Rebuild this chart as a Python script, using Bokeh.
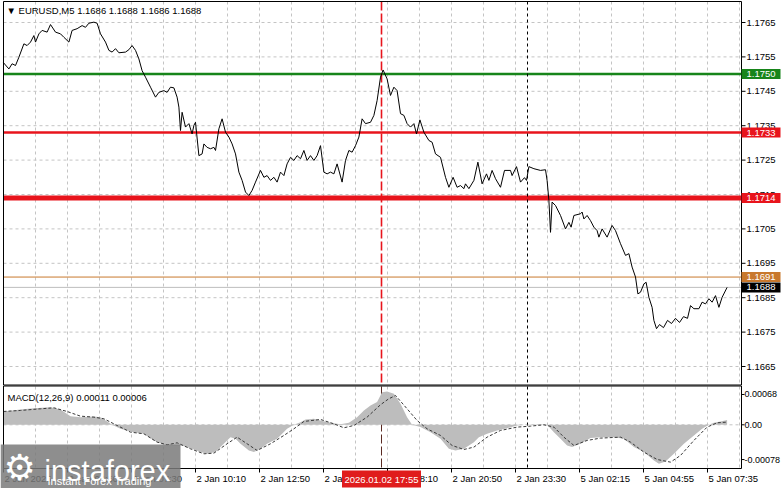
from bokeh.plotting import figure
from bokeh.models import Range1d
from bokeh.core.properties import value
from bokeh.embed import file_html
from bokeh.resources import INLINE

# ---------------- data (bar index = 5-minute bars from the left edge) ----------------
price_idx = [0, 2.7, 4.3, 6, 7.7, 10.2, 11.8, 13.5, 15.2, 16,
             17.7, 19.3, 21.8, 23.5, 26, 28.5, 30.2, 32.7, 34.3, 36.8,
             39.3, 41, 42.7, 45.2, 46.8, 48.5, 51, 52.7, 54.3, 56,
             57.7, 61, 62.7, 64.3, 66, 67.7, 69.3, 71, 73.5, 76,
             77.7, 80.2, 81.8, 83.5, 85.2, 86.8, 87.7, 88.5, 89.3, 91,
             92.7, 94.3, 95.2, 96, 97.7, 99.3, 100.2, 101.8, 103.5, 105.2,
             106, 107.7, 109.3, 111, 112.7, 114.3, 116, 117.7, 119.3, 121,
             122.7, 124.3, 126, 128.5, 130.2, 131.8, 133.5, 135.2, 136.8, 138.5,
             140.2, 141.8, 143.5, 145.2, 146.8, 148.5, 150.2, 151.8, 153.5, 155.2,
             156.8, 158.5, 160.2, 161.8, 163.5, 165.2, 166.8, 169.3, 171, 172.7,
             174.3, 176, 177.7, 179.3, 181, 183.5, 185.2, 186.8, 188.5, 189.8,
             191.8, 193.5, 195.2, 196.8, 198.5, 200.2, 201.8, 203.5, 205.2, 206.5,
             208.2, 210.2, 212.7, 214.3, 216, 218.5, 221, 222.7, 224.8, 226.8,
             228.5, 230.2, 231, 232.7, 235.2, 237.2, 239.3, 241.5, 242.7, 244.3,
             246, 248.5, 250.5, 253.5, 254.3, 256.5, 258.5, 260.5, 261.5, 262.7,
             265.2, 268.5, 271, 271.8, 272.7, 273.5, 274.3, 276, 278.5, 281,
             282.7, 283.8, 285.2, 288.5, 289.3, 290.2, 291.8, 293.5, 295.2, 296.8,
             297.7, 299.3, 301.8, 304.3, 306, 308.5, 311, 312.7, 314.3, 316,
             317.2, 318.5, 320.2, 321.3, 322.7, 324.3, 325.2, 326.5, 328, 330,
             332, 334, 336, 338, 340, 342, 343.5, 345.2, 347.7, 349.3,
             351, 352.7, 354.3, 356, 357.7, 359.3, 361.8]
price_close = [1.17533, 1.17515, 1.17530, 1.17525, 1.17549, 1.17588, 1.17583, 1.17593, 1.17612, 1.17593,
               1.17617, 1.17627, 1.17622, 1.17644, 1.17622, 1.17617, 1.17607, 1.17593, 1.17627, 1.17632,
               1.17641, 1.17636, 1.17648, 1.17651, 1.17648, 1.17617, 1.17593, 1.17569, 1.17564, 1.17574,
               1.17562, 1.17564, 1.17571, 1.17583, 1.17569, 1.17544, 1.17510, 1.17491, 1.17462, 1.17433,
               1.17447, 1.17452, 1.17447, 1.17462, 1.17460, 1.17433, 1.17404, 1.17336, 1.17389, 1.17346,
               1.17356, 1.17326, 1.17351, 1.17360, 1.17263, 1.17268, 1.17297, 1.17287, 1.17283, 1.17287,
               1.17278, 1.17341, 1.17370, 1.17331, 1.17317, 1.17297, 1.17268, 1.17215, 1.17191, 1.17157,
               1.17147, 1.17162, 1.17186, 1.17220, 1.17200, 1.17205, 1.17191, 1.17200, 1.17186, 1.17215,
               1.17205, 1.17239, 1.17258, 1.17249, 1.17263, 1.17254, 1.17278, 1.17249, 1.17263, 1.17249,
               1.17263, 1.17292, 1.17215, 1.17210, 1.17215, 1.17210, 1.17239, 1.17186, 1.17249, 1.17278,
               1.17273, 1.17292, 1.17317, 1.17370, 1.17356, 1.17360, 1.17380, 1.17423, 1.17491, 1.17512,
               1.17486, 1.17438, 1.17462, 1.17452, 1.17385, 1.17380, 1.17356, 1.17346, 1.17356, 1.17326,
               1.17367, 1.17331, 1.17307, 1.17302, 1.17268, 1.17258, 1.17200, 1.17171, 1.17200, 1.17171,
               1.17176, 1.17167, 1.17181, 1.17167, 1.17191, 1.17244, 1.17181, 1.17210, 1.17191, 1.17220,
               1.17196, 1.17171, 1.17220, 1.17220, 1.17205, 1.17231, 1.17186, 1.17199, 1.17191, 1.17231,
               1.17225, 1.17220, 1.17222, 1.17191, 1.17133, 1.17040, 1.17128, 1.17118, 1.17089, 1.17050,
               1.17069, 1.17055, 1.17089, 1.17094, 1.17099, 1.17079, 1.17089, 1.17074, 1.17055, 1.17045,
               1.17026, 1.17050, 1.17026, 1.17060, 1.17045, 1.17007, 1.16973, 1.16978, 1.16939, 1.16910,
               1.16861, 1.16866, 1.16890, 1.16895, 1.16851, 1.16822, 1.16784, 1.16760, 1.16772, 1.16763,
               1.16784, 1.16775, 1.16790, 1.16778, 1.16795, 1.16790, 1.16827, 1.16818, 1.16818, 1.16837,
               1.16832, 1.16847, 1.16837, 1.16856, 1.16822, 1.16851, 1.16880]

hist_idx = [0, 8.5, 15.2, 23.5, 28.5, 33.5, 38.5, 45.2, 48.5, 51.8,
            54.3, 58.5, 65.2, 70.2, 75.2, 80.2, 85.2, 89.3, 93.5, 98.5,
            101.8, 106, 108.5, 111.8, 113.5, 116, 118.5, 122.7, 125.2, 128.5,
            131.8, 136.8, 141.8, 145.2, 148.5, 151, 155.2, 158.5, 163.5, 168.5,
            172.7, 176.8, 180.2, 183.5, 186.8, 189.3, 191.8, 195.2, 198.5, 201.8,
            204.3, 208.5, 213.5, 218.5, 222.7, 226, 230.2, 235.2, 237.7, 241.8,
            246.8, 251.8, 256.8, 261.8, 268.5, 271.8, 275.2, 278.5, 281.8, 284.3,
            288.5, 293.5, 298.5, 305.2, 310.2, 315.2, 320.2, 325.2, 327.7, 331,
            335.2, 340.2, 345.2, 349.3, 352.7, 355.2, 358.5, 361.8]
hist_val = [0.000299, 0.000344, 0.000374, 0.000396, 0.000344, 0.000194, 0.000172, 0.000187, 0.000172, 0.000075,
            0.0, -0.00009, -0.000165, -0.000202, -0.000351, -0.000449, -0.000464, -0.000464, -0.000524, -0.000613,
            -0.000651, -0.000613, -0.000501, -0.000351, -0.000277, -0.000314, -0.000426, -0.000576, -0.000613, -0.000539,
            -0.000426, -0.000314, -0.00009, 0.0, 0.00006, 0.00012, 0.000135, 0.000097, 0.000045, 0.00001,
            0.000045, 0.000172, 0.000322, 0.000434, 0.000509, 0.000733, 0.000748, 0.000696, 0.000471, 0.000172,
            0.0, -0.000052, -0.000165, -0.000314, -0.000539, -0.000576, -0.000539, -0.000389, -0.000277, -0.000202,
            -0.000127, -0.000075, -0.000015, 0.000005, 0.00001, 0.0, -0.000165, -0.000314, -0.000464, -0.000501,
            -0.000426, -0.000299, -0.000277, -0.000277, -0.000314, -0.000501, -0.000613, -0.0008, -0.000875, -0.000823,
            -0.000651, -0.000426, -0.000239, -0.00009, 0.0, 0.000045, 0.000075, 0.00011]

signal_idx = [0, 8.5, 18.5, 25.2, 31.8, 38.5, 45.2, 50.2, 56.8, 63.5,
              70.2, 76.8, 81.8, 86.8, 93.5, 100.2, 105.2, 111.8, 116.8, 121.8,
              126.8, 133.5, 140.2, 145.2, 150.2, 158.5, 165.2, 170.2, 175.2, 181.8,
              188.5, 192.5, 196, 201.8, 206.8, 211.8, 218.5, 224.3, 230.2, 235.2,
              241.8, 248.5, 256.8, 263.5, 270.2, 275.2, 280.2, 285.2, 291.8, 298.5,
              308.5, 313.5, 320.2, 326.8, 333.5, 338.5, 345.2, 351.8, 356.8, 361.8]
signal_val = [0.000299, 0.000322, 0.000359, 0.000381, 0.000299, 0.000194, 0.000172, 0.000135, -0.000015, -0.000165,
              -0.000202, -0.000389, -0.000449, -0.000404, -0.000539, -0.000651, -0.000636, -0.000426, -0.000277, -0.000426,
              -0.000576, -0.000426, -0.000239, -0.00009, 0.000075, 0.00012, 0.000022, -0.000067, -0.000015, 0.000172,
              0.00045, 0.00058, 0.000658, 0.000359, 0.000097, -0.00009, -0.000239, -0.000464, -0.000554, -0.000501,
              -0.000277, -0.000127, -0.000052, -0.00003, 0.0, -0.000052, -0.000277, -0.000464, -0.000351, -0.000299,
              -0.000277, -0.000389, -0.000613, -0.000778, -0.000838, -0.000688, -0.000351, -0.000052, 0.000045, 0.00006]

price_ticks = [1.1665, 1.1675, 1.1685, 1.1695, 1.1705, 1.1715, 1.1725, 1.1735, 1.1745, 1.1755, 1.1765]
macd_ticks = [0.00068, 0.0, -0.00078]
macd_tick_text = ["0.00068", "0.00", "-0.00078"]

time_idx = [0, 32, 64, 96, 128, 160, 192, 224, 256, 288, 320, 352]
time_text = ["2 Jan 2026", "2 Jan 04:50", "2 Jan 07:30", "2 Jan 10:10", "2 Jan 12:50", "2 Jan 15:30",
             "2 Jan 18:10", "2 Jan 20:50", "2 Jan 23:30", "5 Jan 02:15", "5 Jan 04:55", "5 Jan 07:35"]

level_values = [1.1750, 1.1733, 1.1714, 1.1691, 1.1688]
level_line_colors = ["#17851a", "#e8141c", "#e8141c", "#c8782d", "#bdbdbd"]
level_tag_colors = ["#17851a", "#e8141c", "#e8141c", "#c8782d", "#000000"]
level_widths = [2.5, 2.5, 5, 1, 1]

cursor_idx = 189
cursor_text = "2026.01.02 17:55"
separator_idx = 262

title_text = "\u25bc EURUSD,M5  1.1686 1.1688 1.1686 1.1688"
macd_title = "MACD(12,26,9) 0.00011 0.00006"

# ---------------- geometry (screen pixels -> data coordinates) ----------------
W, H = 781, 488
BAR_PX = 2.0          # pixels per 5-minute bar
BAR0_PX = 3.0         # pixel of bar 0
PRICE_REF, PRICE_REF_PY, PRICE_PX = 1.1765, 22.0, 34400.0   # price at pixel row, pixels per 1.0
MACD_ZERO_PY, MACD_PX = 424.3, 44559.0

LEFT, RIGHT = 3, 741
P_TOP, P_BOT = 1, 385
M_TOP, M_BOT = 386, 468


def bx(px):
    return (px - BAR0_PX) / BAR_PX


def pp(py):
    return PRICE_REF - (py - PRICE_REF_PY) / PRICE_PX


def mp(py):
    return (MACD_ZERO_PY - py) / MACD_PX


FONT = value("Liberation Sans")
FS = value("9.5px")
FS_AX = value("9px")
GRID_COLOR = "#c4c4c4"

p = figure(width=W, height=H, x_range=Range1d(bx(0), bx(W)), y_range=Range1d(pp(H), pp(0)),
           output_backend="svg", toolbar_location=None, x_axis_location=None, y_axis_location=None,
           min_border=0, min_border_left=0, min_border_right=0, min_border_top=0, min_border_bottom=0,
           background_fill_color="white", border_fill_color="white", outline_line_color=None)
p.extra_y_ranges = {"macd": Range1d(mp(H), mp(0))}
p.grid.visible = False

vgrid = list(range(0, int(bx(RIGHT)) + 1, 16))

# grid - price pane
p.segment(x0=vgrid, x1=vgrid, y0=[pp(P_TOP)] * len(vgrid), y1=[pp(P_BOT)] * len(vgrid),
          line_color=GRID_COLOR, line_dash="3 3", line_width=1)
p.segment(x0=[bx(LEFT)] * len(price_ticks), x1=[bx(RIGHT)] * len(price_ticks), y0=price_ticks, y1=price_ticks,
          line_color=GRID_COLOR, line_dash="3 3", line_width=1)
# grid - MACD pane
p.segment(x0=vgrid, x1=vgrid, y0=[mp(M_TOP)] * len(vgrid), y1=[mp(M_BOT)] * len(vgrid),
          line_color=GRID_COLOR, line_dash="3 3", line_width=1, y_range_name="macd")
p.segment(x0=[bx(LEFT)], x1=[bx(RIGHT)], y0=[0], y1=[0], line_color=GRID_COLOR, line_dash="3 3",
          line_width=1, y_range_name="macd")

# levels
p.segment(x0=[bx(LEFT)] * len(level_values), x1=[bx(RIGHT)] * len(level_values), y0=level_values,
          y1=level_values, line_color=level_line_colors, line_width=level_widths)

# vertical cursor & day separator
p.segment(x0=[cursor_idx], x1=[cursor_idx], y0=[pp(P_TOP)], y1=[pp(P_BOT)], line_color="#e8141c",
          line_dash="9 3", line_width=1.6)
p.segment(x0=[cursor_idx], x1=[cursor_idx], y0=[mp(M_TOP)], y1=[mp(M_BOT)], line_color="#5a2a22",
          line_dash="9 3", line_width=1, y_range_name="macd")
p.segment(x0=[separator_idx], x1=[separator_idx], y0=[pp(P_TOP)], y1=[pp(P_BOT)], line_color="black",
          line_dash="3 3", line_width=1)
p.segment(x0=[separator_idx], x1=[separator_idx], y0=[mp(M_TOP)], y1=[mp(M_BOT)], line_color="black",
          line_dash="3 3", line_width=1, y_range_name="macd")

# price
p.line(price_idx, price_close, line_color="black", line_width=1)

# MACD
p.varea(x=hist_idx, y1=[0] * len(hist_idx), y2=hist_val, fill_color="#bdbdbd", y_range_name="macd")
p.line(signal_idx, signal_val, line_color="#3a3a3a", line_dash="3 2", line_width=1, y_range_name="macd")

# pane borders
p.quad(left=[bx(LEFT)], right=[bx(RIGHT)], top=[pp(P_TOP)], bottom=[pp(P_BOT - 0.5)], fill_color=None,
       line_color="black", line_width=1)
p.quad(left=[bx(LEFT)], right=[bx(RIGHT)], top=[mp(M_TOP - 0.5)], bottom=[mp(M_BOT)], fill_color=None,
       line_color="black", line_width=1, y_range_name="macd")

# right scale ticks and labels
p.segment(x0=[bx(RIGHT)] * len(price_ticks), x1=[bx(RIGHT + 4)] * len(price_ticks), y0=price_ticks,
          y1=price_ticks, line_color="black", line_width=1)
p.text(x=[bx(RIGHT + 5)] * len(price_ticks), y=price_ticks, text=[f"{t:.4f}" for t in price_ticks],
       text_font=FONT, text_font_size=FS, text_color="black", text_align="left", text_baseline="middle")
p.segment(x0=[bx(RIGHT)] * len(macd_ticks), x1=[bx(RIGHT + 3)] * len(macd_ticks), y0=macd_ticks,
          y1=macd_ticks, line_color="black", line_width=1, y_range_name="macd")
p.text(x=[bx(RIGHT + 3)] * len(macd_ticks), y=macd_ticks, text=macd_tick_text, text_font=FONT,
       text_font_size=FS_AX, text_color="black", text_align="left", text_baseline="middle", y_range_name="macd")

# level tags
p.rect(x=[bx(760.5)] * len(level_values), y=level_values, width=39, height=10, width_units="screen",
       height_units="screen", fill_color=level_tag_colors, line_color=None)
p.text(x=[bx(RIGHT + 5)] * len(level_values), y=level_values, text=[f"{v:.4f}" for v in level_values],
       text_font=FONT, text_font_size=FS, text_color="white", text_align="left", text_baseline="middle")

# time axis ticks and labels
p.segment(x0=time_idx, x1=time_idx, y0=[mp(M_BOT)] * len(time_idx), y1=[mp(M_BOT + 4)] * len(time_idx),
          line_color="black", line_width=1, y_range_name="macd")
p.text(x=[t + bx(4) for t in time_idx], y=[mp(478)] * len(time_idx), text=time_text, text_font=FONT,
       text_font_size=FS, text_color="black", text_align="left", text_baseline="middle", y_range_name="macd")

# cursor time tag
p.rect(x=[cursor_idx], y=[mp(478.5)], width=79, height=17, width_units="screen", height_units="screen",
       fill_color="#e01c1c", line_color=None, y_range_name="macd")
p.text(x=[cursor_idx], y=[mp(478.5)], text=[cursor_text], text_font=FONT, text_font_size=FS,
       text_color="white", text_align="center", text_baseline="middle", y_range_name="macd")

# titles
p.text(x=[bx(6)], y=[pp(10)], text=[title_text], text_font=FONT, text_font_size=FS, text_color="black",
       text_align="left", text_baseline="middle")
p.text(x=[bx(7)], y=[mp(397)], text=[macd_title], text_font=FONT, text_font_size=FS, text_color="black",
       text_align="left", text_baseline="middle", y_range_name="macd")

# watermark
p.quad(left=[bx(0)], right=[bx(180)], top=[mp(444)], bottom=[mp(H)], fill_color="#7a7a7a", fill_alpha=0.85,
       line_color=None, y_range_name="macd")
p.text(x=[bx(3)], y=[mp(467)], text=["\u2699"], text_font=value("DejaVu Sans"), text_font_size=value("36px"),
       text_color="white", text_align="left", text_baseline="middle", y_range_name="macd")
p.text(x=[bx(44)], y=[mp(470)], text=["instaforex"], text_font=FONT, text_font_size=value("29px"),
       text_color="white", text_align="left", text_baseline="alphabetic", y_range_name="macd")
p.text(x=[bx(47)], y=[mp(480)], text=["Instant Forex Trading"], text_font=FONT, text_font_size=value("11px"),
       text_color="white", text_align="left", text_baseline="middle", y_range_name="macd")

open("out.html", "w").write(file_html(p, INLINE))
